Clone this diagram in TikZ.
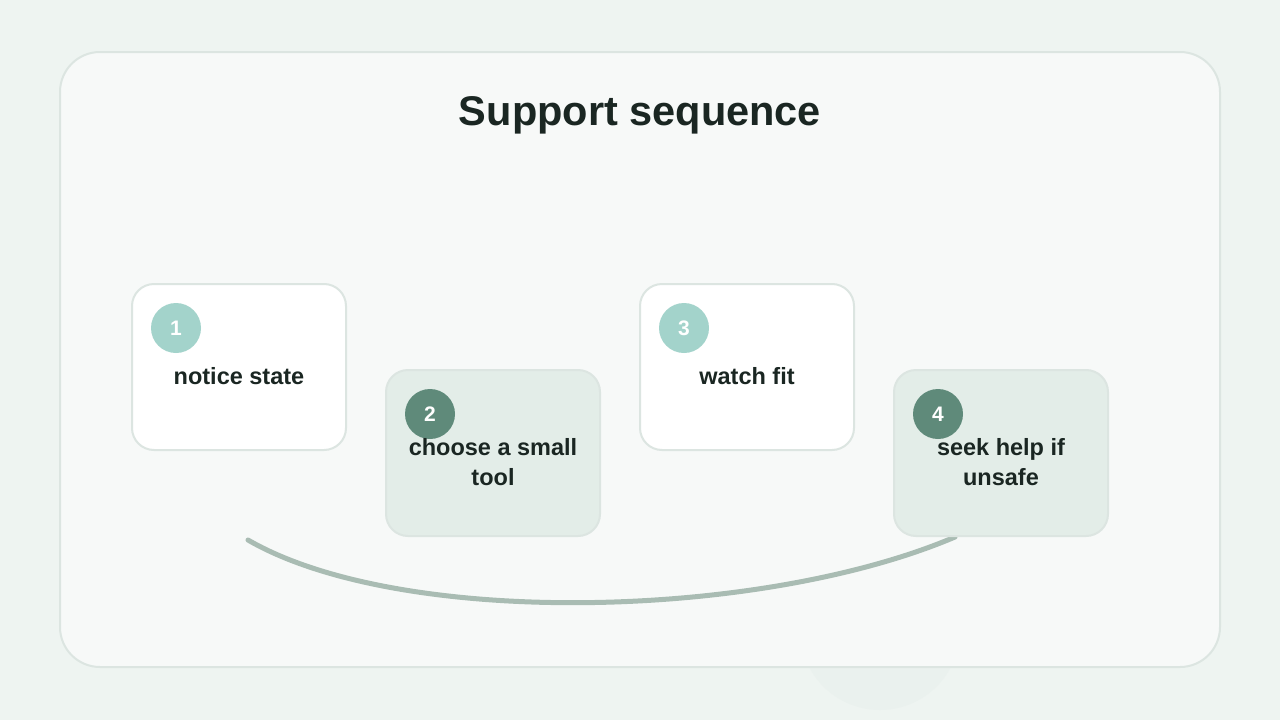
\documentclass[tikz,border=0pt]{standalone}
\usepackage{fontspec}
\setmainfont{Liberation Sans}
\definecolor{bgc}{HTML}{EEF4F1}
\definecolor{cardc}{HTML}{F7F9F8}
\definecolor{edgec}{HTML}{DCE5E1}
\definecolor{softc}{HTML}{E3EDE8}
\definecolor{lightdot}{HTML}{A3D3CB}
\definecolor{darkdot}{HTML}{5F8A7A}
\definecolor{arcc}{HTML}{A9BCB3}
\definecolor{inkc}{HTML}{1A2622}
\tikzset{
  stepbox/.style={draw=edgec, line width=2pt, rounded corners=22pt, minimum width=214pt, minimum height=166pt},
  stepw/.style={stepbox, fill=white},
  steps/.style={stepbox, fill=softc},
  dot/.style={circle, minimum size=50pt, inner sep=0pt, text=white, font=\bfseries\fontsize{21}{21}\selectfont},
  lbl/.style={text=inkc, align=center, font=\bfseries\fontsize{23.5}{30}\selectfont}
}
\begin{document}
\begin{tikzpicture}[x=1pt,y=-1pt]
    \useasboundingbox (0,0) rectangle (1280,720);
    % background
    \fill[bgc] (0,0) rectangle (1280,720);
    \fill[bgc!80!edgec] (880,630) circle (80);
    % card
    \draw[edgec, line width=2pt, fill=cardc, rounded corners=40pt] (60,52) rectangle (1220,667);
    \node[text=inkc, font=\bfseries\fontsize{41.5}{42}\selectfont] (title) at (640,115) {Support sequence};
    % arc
    \coordinate (arcA) at (248,540);
    \coordinate (arcB) at (955,537);
    \draw[arcc, line width=5pt, line cap=round] (arcA) .. controls (400,628) and (760,620) .. (arcB);
    % steps
    \node[stepw] (s1) at (239,367) {};
    \node[steps] (s2) at (493,453) {};
    \node[stepw] (s3) at (747,367) {};
    \node[steps] (s4) at (1001,453) {};
    \node[dot, fill=lightdot] (d1) at (176,328) {1};
    \node[dot, fill=darkdot] (d2) at (430,414) {2};
    \node[dot, fill=lightdot] (d3) at (684,328) {3};
    \node[dot, fill=darkdot] (d4) at (938,414) {4};
    \node[lbl] (t1) at (239,376) {notice state};
    \node[lbl] (t2) at (493,462) {choose a small\\tool};
    \node[lbl] (t3) at (747,376) {watch fit};
    \node[lbl] (t4) at (1001,462) {seek help if\\unsafe};
\end{tikzpicture}
\end{document}
